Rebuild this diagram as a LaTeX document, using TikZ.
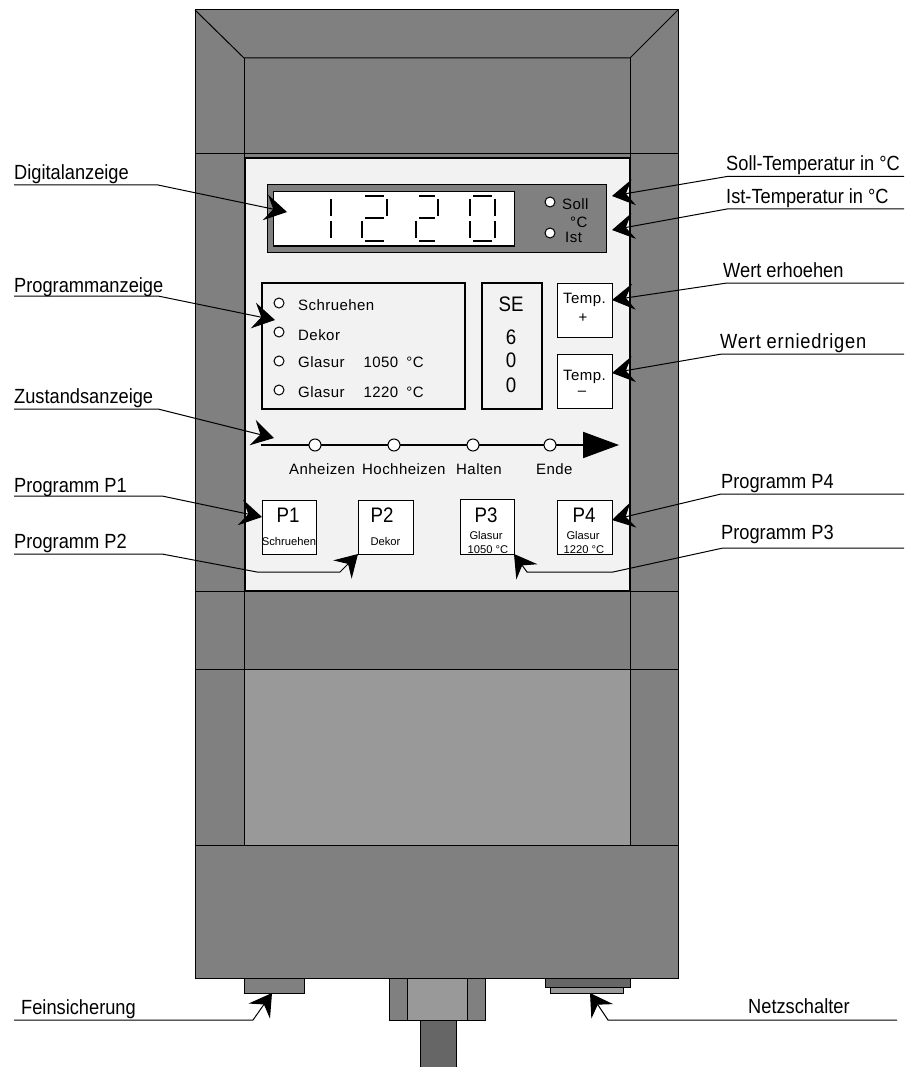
\documentclass[tikz,border=0pt]{standalone}
\usepackage{fontspec}
\setmainfont{Liberation Sans}
\newfontfamily\widefont[LetterSpace=3]{Liberation Sans}
\newfontfamily\tightfont[FakeStretch=0.89]{Liberation Sans}
\usetikzlibrary{shapes.geometric, arrows.meta, positioning, calc}
\definecolor{housing}{HTML}{808080}
\definecolor{lightgrey}{HTML}{999999}
\definecolor{darkgrey}{HTML}{666666}
\definecolor{plate}{HTML}{F2F2F2}

\begin{document}
\begin{tikzpicture}[x=1pt, y=-1pt, node distance=29pt,
    part/.style={rectangle, draw, line width=1pt, inner sep=0pt, outer sep=0pt},
    panel/.style={part, line width=2pt, fill=plate, minimum height=126pt},
    keybox/.style={part, fill=white, minimum width=55pt, minimum height=54pt},
    led/.style={circle, draw, line width=1pt, fill=white, inner sep=0pt, minimum size=10pt},
    seg/.style={line width=1.4pt},
    caption/.style={anchor=base west, inner sep=0pt, font=\fontsize{20.5}{22}\tightfont},
    small/.style={anchor=base west, inner sep=0pt, font=\fontsize{15}{17}\widefont},
    keyname/.style={anchor=base, inner sep=0pt, font=\fontsize{21}{23}\tightfont},
    keytext/.style={anchor=base, inner sep=0pt, font=\fontsize{11.2}{13}\selectfont},
    leader/.style={line width=1pt, -{Stealth[length=22pt, width=26pt, inset=8pt]}}]
    \useasboundingbox (0,0) rectangle (904,1067);

    \filldraw [fill=housing, line width=1pt] (195,10) rectangle (678,845);
    \draw [line width=1pt] (195,10) -- (244,58) -- (630,58) -- (678,10);
    \draw [line width=1pt] (244,58) -- (244,845);
    \draw [line width=1pt] (630,58) -- (630,845);
    \draw [line width=1pt] (195,154) -- (678,154);
    \draw [line width=1pt] (195,591) -- (678,591);
    \draw [line width=1pt] (195,669) -- (678,669);
    \filldraw [fill=lightgrey, line width=1pt] (244,669) rectangle (630,845);
    \filldraw [fill=plate, line width=2pt] (245,158) rectangle (630,591);
    \filldraw [fill=housing, line width=1pt] (195,845) rectangle (678,978);

    \node [part, fill=housing, minimum width=60pt, minimum height=15pt] (fuse) at (274,985.5) {};
    \node [part, fill=housing, minimum width=96pt, minimum height=42pt] (gland) at (437,999) {};
    \node [part, fill=lightgrey, minimum width=60pt, minimum height=42pt] (glandcore) at (437,999) {};
    \node [part, fill=darkgrey, minimum width=36pt, minimum height=47pt] (cable) at (438,1043.5) {};
    \node [part, fill=darkgrey, minimum width=85pt, minimum height=9pt] (switchbase) at (587.5,982.5) {};
    \node [part, fill=lightgrey, minimum width=73pt, minimum height=6pt] (switchcap) at (586.5,990) {};

    \node [part, fill=housing, minimum width=339pt, minimum height=67pt] (display) at (436.5,218.5) {};
    \node [part, fill=white, minimum width=241pt, minimum height=54pt] (readout) at (393.5,219) {};
    \draw [seg] (331,199) -- (331,216) (331,221) -- (331,238);
    \draw [seg] (365,196) -- (384,196) (387,199) -- (387,216) (365,218) -- (384,218) (362,221) -- (362,238) (365,241) -- (384,241);
    \draw [seg] (419,196) -- (435,196) (438,199) -- (438,216) (419,218) -- (435,218) (416,221) -- (416,238) (419,241) -- (435,241);
    \draw [seg] (473,196) -- (492,196) (470,199) -- (470,216) (495,199) -- (495,216) (470,221) -- (470,238) (495,221) -- (495,238) (473,241) -- (492,241);
    \node [led] (ledsoll) at (550,202) {};
    \node [led] (ledist) at (550,233) {};
    \node [small] (soll) at (562,210) {Soll};
    \node [small] (unit) at (570,228) {°C};
    \node [small] (ist) at (565,243) {Ist};

    \node [panel, minimum width=203pt] (progbox) at (363.5,346) {};
    \node [led] (ledschruehen) at (279,303) {};
    \node [led, below of=ledschruehen] (leddekor) {};
    \node [led, below of=leddekor] (ledglasura) {};
    \node [led, below of=ledglasura] (ledglasurb) {};
    \node [small] (schruehen) at (298,310) {Schruehen};
    \node [small] (dekor) at (298,340) {Dekor};
    \node [small] (glasura) at (298,367) {Glasur\hspace{19pt}1050\hspace{8pt}°C};
    \node [small] (glasurb) at (298,397) {Glasur\hspace{19pt}1220\hspace{8pt}°C};

    \node [panel, minimum width=60pt] (sebox) at (512,346) {};
    \node [keyname] (se) at (511,311) {SE};
    \node [keyname] (digita) at (511,344) {6};
    \node [keyname] (digitb) at (511,367) {0};
    \node [keyname] (digitc) at (511,392) {0};

    \node [keybox] (tempplus) at (584.5,310) {};
    \node [keybox] (tempminus) at (584.5,381.5) {};
    \node [small, anchor=base] (plustext) at (584.5,303) {Temp.};
    \node [small, anchor=base] (plussign) at (583,322) {+};
    \node [small, anchor=base] (minustext) at (584.5,380) {Temp.};
    \node [small, anchor=base] (minussign) at (582,395) {–};

    \coordinate (statestart) at (261,445);
    \coordinate (stateend) at (619,445);
    \draw [line width=2pt, -{Triangle[length=36pt, width=26pt]}] (statestart) -- (stateend);
    \node [led, minimum size=12pt] (ledanheizen) at (315,445) {};
    \node [led, minimum size=12pt, right of=ledanheizen, node distance=79pt] (ledhochheizen) {};
    \node [led, minimum size=12pt, right of=ledhochheizen, node distance=79pt] (ledhalten) {};
    \node [led, minimum size=12pt, right of=ledhalten, node distance=77pt] (ledende) {};
    \node [small] (anheizen) at (289,474) {Anheizen};
    \node [small] (hochheizen) at (362,474) {Hochheizen};
    \node [small] (halten) at (456,474) {Halten};
    \node [small] (ende) at (536,474) {Ende};

    \node [keybox, minimum width=54pt] (keya) at (289,527) {};
    \node [keybox] (keyb) at (385.5,527) {};
    \node [keybox, minimum width=54pt, minimum height=55pt] (keyc) at (487,526.5) {};
    \node [keybox] (keyd) at (584.5,527) {};
    \node [keyname] (namea) at (288,522) {P1};
    \node [keyname] (nameb) at (382,522) {P2};
    \node [keyname] (namec) at (486,522) {P3};
    \node [keyname] (named) at (584,522) {P4};
    \node [keytext] (texta) at (289,545) {Schruehen};
    \node [keytext] (textb) at (385.5,545) {Dekor};
    \node [keytext] (textc) at (486,539) {Glasur};
    \node [keytext] (textd) at (488,553) {1050 °C};
    \node [keytext] (texte) at (583,539) {Glasur};
    \node [keytext] (textf) at (584,553) {1220 °C};

    \node [caption] (lbldigital) at (14,180) {Digitalanzeige};
    \node [caption] (lblprogramm) at (14,292) {Programmanzeige};
    \node [caption] (lblzustand) at (14,403) {Zustandsanzeige};
    \node [caption] (lblpa) at (14,492) {Programm P1};
    \node [caption] (lblpb) at (14,548) {Programm P2};
    \node [caption] (lblsoll) at (726,171) {Soll-Temperatur in °C};
    \node [caption] (lblist) at (726,204) {Ist-Temperatur in °C};
    \node [caption] (lblplus) at (723,277) {Wert erhoehen};
    \node [caption] (lblminus) at (720,348) {\addfontfeature{LetterSpace=4}Wert erniedrigen};
    \node [caption] (lblpd) at (721,488) {Programm P4};
    \node [caption] (lblpc) at (721,539) {Programm P3};
    \node [caption] (lblfuse) at (21,1014) {Feinsicherung};
    \node [caption] (lblnetz) at (748,1013) {Netzschalter};

    \coordinate (enddigital) at (14,185);
    \coordinate (endprogramm) at (14,296);
    \coordinate (endzustand) at (14,409);
    \coordinate (endpa) at (14,496);
    \coordinate (endpb) at (14,554);
    \coordinate (endsoll) at (904,176.5);
    \coordinate (endist) at (904,209);
    \coordinate (endplus) at (904,283);
    \coordinate (endminus) at (904,354);
    \coordinate (endpd) at (904,494);
    \coordinate (endpc) at (904,548);
    \coordinate (endfuse) at (14,1020);
    \coordinate (endnetz) at (897,1020);

    \draw [leader] (enddigital) -- (158,185) -- ([shift={(14pt,7pt)}]readout.west);
    \draw [leader] (endprogramm) -- (158,296) -- ([shift={(13pt,26pt)}]progbox.west);
    \draw [leader] (endzustand) -- (158,409) -- ([shift={(13pt,7pt)}]statestart);
    \draw [leader] (endpa) -- (162,496) -- ([yshift=10pt]keya.west);
    \draw [leader] (endpb) -- (162,554) -- (257,572) -- (340,572) -- (keyb.south west);
    \draw [leader] (endsoll) -- (727,176.5) -- ([shift={(6pt,22.5pt)}]display.east);
    \draw [leader] (endist) -- (727,209) -- ([shift={(6pt,-11.5pt)}]display.east);
    \draw [leader] (endplus) -- (727,283) -- ([yshift=10pt]tempplus.east);
    \draw [leader] (endminus) -- (722,354) -- ([yshift=8.5pt]tempminus.east);
    \draw [leader] (endpd) -- (721,494) -- ([yshift=7pt]keyd.east);
    \draw [leader] (endpc) -- (723,548) -- (613,572) -- (527,572) -- (keyc.south east);
    \draw [leader] (endfuse) -- (253,1020) -- ([xshift=-2pt]fuse.south);
    \draw [leader] (endnetz) -- (608,1020) -- ([xshift=3.5pt]switchcap.south);
\end{tikzpicture}
\end{document}
